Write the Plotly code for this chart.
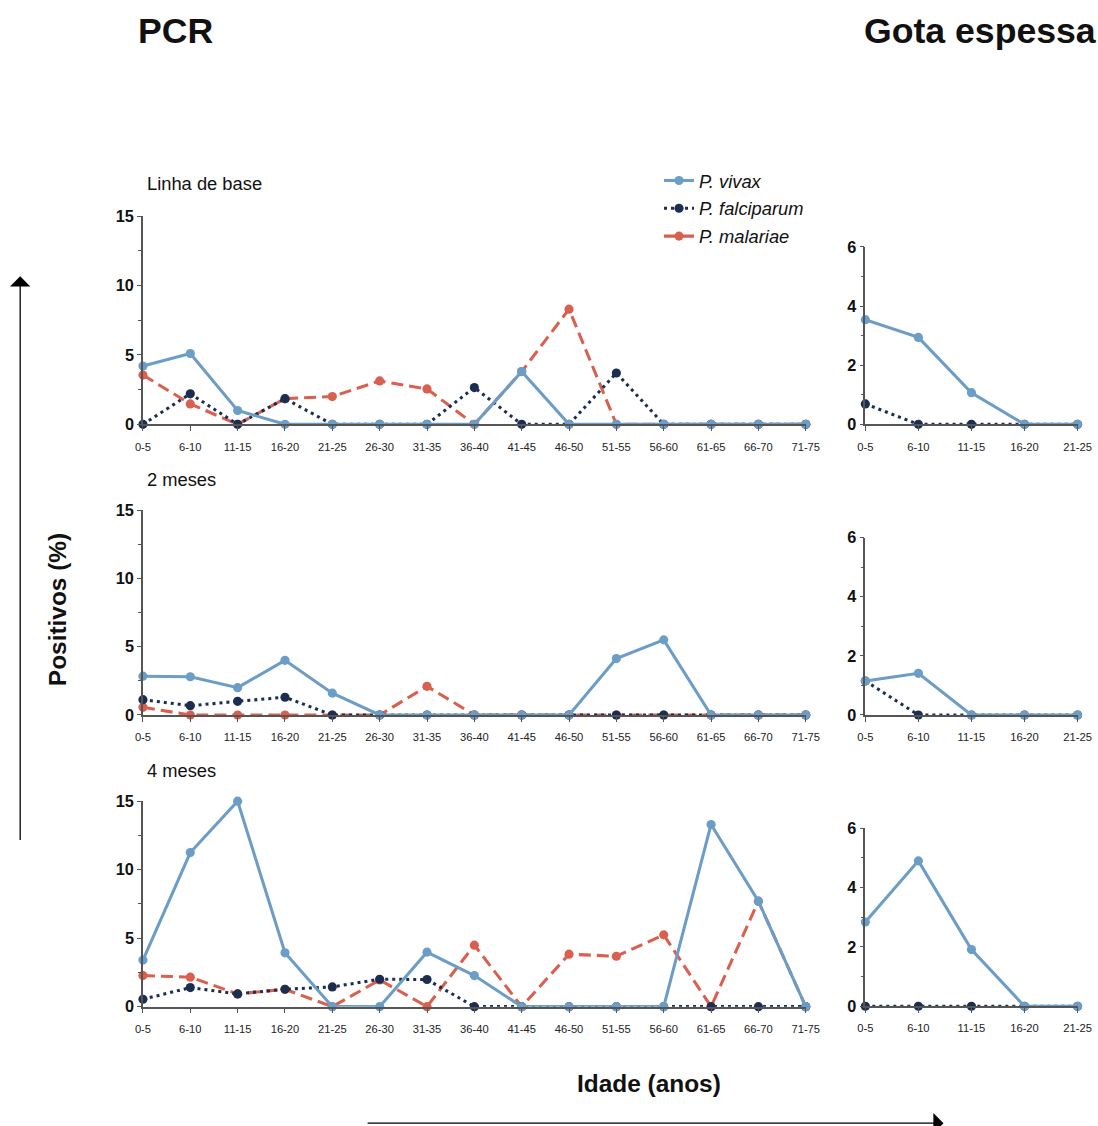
import plotly.graph_objects as go

# Age groups (years)
age_groups = ["0-5", "6-10", "11-15", "16-20", "21-25", "26-30", "31-35", "36-40",
              "41-45", "46-50", "51-55", "56-60", "61-65", "66-70", "71-75"]
gota_groups = age_groups[:5]

# PCR positivity (%) by age group
pcr_vivax_base = [4.2, 5.1, 1.0, 0, 0, 0, 0, 0, 3.8, 0, 0, 0, 0, 0, 0]
pcr_falc_base = [0, 2.2, 0, 1.85, 0, 0, 0, 2.65, 0, 0, 3.7, 0, 0, 0, 0]
pcr_mal_base = [3.55, 1.47, 0, 1.85, 2.0, 3.13, 2.55, 0, 3.8, 8.3, 0, 0, 0, 0, 0]

pcr_vivax_2m = [2.84, 2.8, 2.0, 4.0, 1.6, 0, 0, 0, 0, 0, 4.13, 5.5, 0, 0, 0]
pcr_falc_2m = [1.12, 0.68, 1.0, 1.3, 0, 0, 0, 0, 0, 0, 0, 0, 0, 0, 0]
pcr_mal_2m = [0.56, 0, 0, 0, 0, 0, 2.1, 0, 0, 0, 0, 0, 0, 0, 0]

pcr_vivax_4m = [3.4, 11.25, 15.0, 3.93, 0, 0, 3.98, 2.27, 0, 0, 0, 0, 13.3, 7.7, 0]
pcr_falc_4m = [0.54, 1.39, 0.93, 1.27, 1.44, 2.0, 1.98, 0, 0, 0, 0, 0, 0, 0, 0]
pcr_mal_4m = [2.27, 2.15, 0.93, 1.27, 0, 1.95, 0, 4.49, 0, 3.83, 3.68, 5.24, 0, 7.7, 0]

# Thick smear ("gota espessa") positivity (%) by age group
gota_vivax_base = [3.54, 2.94, 1.07, 0, 0]
gota_falc_base = [0.69, 0, 0, 0, 0]
gota_vivax_2m = [1.15, 1.41, 0, 0, 0]
gota_falc_2m = [1.15, 0, 0, 0, 0]
gota_vivax_4m = [2.84, 4.9, 1.91, 0, 0]
gota_falc_4m = [0, 0, 0, 0, 0]

panel_labels = ["Linha de base", "2 meses", "4 meses"]

# Layout is specified in screen pixels; S, OX, OY convert screen pixels into
# figure pixels for the page the figure is shown in.
S, OX, OY = 0.982, 7.8, 8.3
W = round((1098 - OX) / S) + 2
H = round((1126 - OY) / S) + 2
FONT = "Liberation Sans, Arial, Helvetica, sans-serif"
C_VIVAX = "#6b9dc6"
C_FALC = "#1b2e52"
C_MAL = "#d9604f"
AXIS_C = "#555555"


def sz(v):
    return v / S


STYLE = {
    "vivax": dict(name="<i>P. vivax</i>", color=C_VIVAX, dash="solid", rank=1),
    "falc": dict(name="<i>P. falciparum</i>", color=C_FALC, dash="3px,4px", rank=2),
    "mal": dict(name="<i>P. malariae</i>", color=C_MAL, dash="12px,6px", rank=3),
}


def fx(px):
    return ((px - OX) / S) / W


def fy(py):
    return 1 - ((py - OY) / S) / H


def px_x(a, b):
    return [fx(a), fx(b)]


def px_y(top, bottom):
    return [fy(bottom), fy(top)]


# panel geometry in screen pixels: (x_left, x_right, y_top, y_bottom)
left_rows = [(143, 807, 215, 422.7), (143, 807, 508.3, 712.7), (143, 807, 798.7, 1003.7)]
right_rows = [(866.7, 1079.3, 245.7, 422.7), (866.7, 1079.3, 535.7, 712.7), (866.7, 1079.3, 825.7, 1003.3)]

pcr_data = [
    (pcr_mal_base, pcr_falc_base, pcr_vivax_base),
    (pcr_mal_2m, pcr_falc_2m, pcr_vivax_2m),
    (pcr_mal_4m, pcr_falc_4m, pcr_vivax_4m),
]
gota_data = [
    (gota_falc_base, gota_vivax_base),
    (gota_falc_2m, gota_vivax_2m),
    (gota_falc_4m, gota_vivax_4m),
]

fig = go.Figure()
layout = {}


def add_line(key, x, y, xa, ya, legend):
    s = STYLE[key]
    fig.add_trace(go.Scatter(
        x=x, y=y, xaxis=xa, yaxis=ya, mode="lines+markers",
        name=s["name"], legendgroup=key, legendrank=s["rank"], showlegend=legend,
        line=dict(color=s["color"], width=sz(3), dash=s["dash"]),
        marker=dict(color=s["color"], size=sz(9)),
        cliponaxis=False, hoverinfo="skip",
    ))


def axis_pair(idx, xdom, ydom, cats, ymax, ydt, yminor):
    sx = "" if idx == 1 else str(idx)
    layout["xaxis" + sx] = dict(
        domain=xdom, anchor="y" + sx, type="category", categoryorder="array",
        categoryarray=cats, range=[0, len(cats) - 1], showline=True, linecolor=AXIS_C,
        linewidth=1.5, ticks="outside", ticklen=5, tickcolor=AXIS_C, tickwidth=1,
        showgrid=False, zeroline=False, ticklabelstandoff=6,
        tickfont=dict(family=FONT, size=sz(11), color="#222222"),
    )
    layout["yaxis" + sx] = dict(
        domain=ydom, anchor="x" + sx, range=[0, ymax], dtick=ydt, tick0=0,
        showline=True, linecolor=AXIS_C, linewidth=1.5, ticks="outside", ticklen=4,
        tickcolor=AXIS_C, tickwidth=1, showgrid=False, zeroline=False,
        ticklabelstandoff=0,
        minor=dict(ticks="outside", ticklen=3, dtick=yminor, tick0=0, tickcolor=AXIS_C),
        tickfont=dict(family=FONT, size=sz(16), color="#111111", weight="bold"),
    )
    return "x" + sx, "y" + sx


idx = 1
for r in range(3):
    xl, xr, yt, yb = left_rows[r]
    xa, ya = axis_pair(idx, px_x(xl, xr), px_y(yt, yb), age_groups, 15, 5, 2.5)
    mal, falc, viv = pcr_data[r]
    add_line("mal", age_groups, mal, xa, ya, r == 0)
    add_line("falc", age_groups, falc, xa, ya, r == 0)
    add_line("vivax", age_groups, viv, xa, ya, r == 0)
    idx += 1

    xl, xr, yt, yb = right_rows[r]
    xa, ya = axis_pair(idx, px_x(xl, xr), px_y(yt, yb), gota_groups, 6, 2, 1)
    falc, viv = gota_data[r]
    add_line("falc", gota_groups, falc, xa, ya, False)
    add_line("vivax", gota_groups, viv, xa, ya, False)
    idx += 1

annotations = [
    dict(text="<b>PCR</b>", x=fx(176), y=fy(30), font=dict(size=sz(35))),
    dict(text="<b>Gota espessa</b>", x=fx(982), y=fy(30), font=dict(size=sz(35))),
    dict(text="<b>Positivos (%)</b>", x=fx(57), y=fy(608), font=dict(size=sz(24)), textangle=-90),
    dict(text="<b>Idade (anos)</b>", x=fx(650), y=fy(1080), font=dict(size=sz(24))),
]
label_y = [182, 478, 768]
for lab, ly in zip(panel_labels, label_y):
    annotations.append(dict(text=lab, x=fx(145), y=fy(ly), xanchor="left", font=dict(size=sz(18))))

for a in annotations:
    a.setdefault("xanchor", "center")
    a.update(xref="paper", yref="paper", showarrow=False, yanchor="middle")
    a["font"] = dict(family=FONT, color="#111111", **a["font"])

# direction arrows along the axes
annotations.append(dict(xref="paper", yref="paper", x=fx(20), y=fy(275), text="",
                        showarrow=True, axref="pixel", ayref="pixel", ax=0, ay=sz(555),
                        arrowhead=1, arrowsize=2.6, arrowwidth=1.3, arrowcolor="#000000"))
annotations.append(dict(xref="paper", yref="paper", x=fx(945), y=fy(1120), text="",
                        showarrow=True, axref="pixel", ayref="pixel", ax=-sz(567), ay=0,
                        arrowhead=1, arrowsize=2.6, arrowwidth=1.3, arrowcolor="#000000"))

fig.update_layout(
    width=W, height=H, margin=dict(l=0, r=0, t=0, b=0),
    paper_bgcolor="white", plot_bgcolor="white",
    font=dict(family=FONT),
    showlegend=True,
    legend=dict(x=fx(660), y=fy(161), xanchor="left", yanchor="top",
                bgcolor="rgba(0,0,0,0)", itemwidth=30, tracegroupgap=1,
                font=dict(family=FONT, size=sz(18), color="#111111")),
    annotations=annotations,
    **layout,
)

fig.write_html("out.html")
